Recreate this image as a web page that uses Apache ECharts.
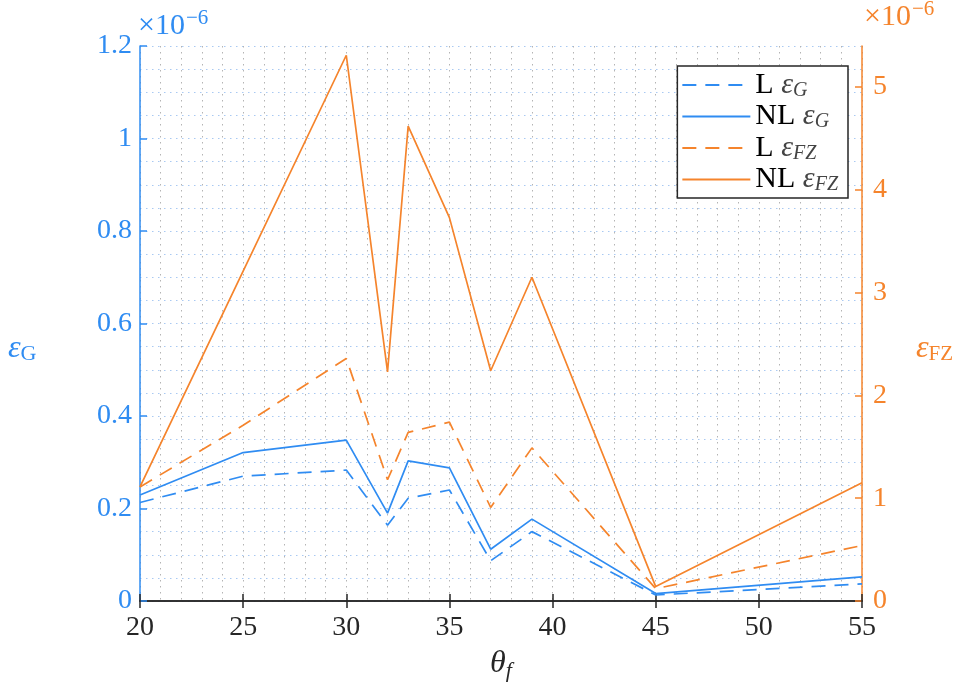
<!DOCTYPE html>
<html>
<head>
<meta charset="utf-8">
<script src="https://cdn.jsdelivr.net/npm/echarts@6/dist/echarts.min.js"></script>
<style>html,body{margin:0;padding:0;background:#fff}#c{width:961px;height:684px}</style>
</head>
<body>
<div id="c"></div>
<script>
// ---- data (values in units of 1e-6) ----
const thetaF = [20, 25, 30, 32, 33, 35, 37, 39, 45, 55];
const L_epsG   = [0.213, 0.270, 0.283, 0.164, 0.222, 0.240, 0.087, 0.150, 0.013, 0.037];
const NL_epsG  = [0.229, 0.321, 0.348, 0.190, 0.303, 0.288, 0.112, 0.177, 0.016, 0.052];
const L_epsFZ  = [1.11, 1.71, 2.36, 1.18, 1.64, 1.74, 0.91, 1.49, 0.12, 0.54];
const NL_epsFZ = [1.11, 3.21, 5.31, 2.23, 4.62, 3.73, 2.24, 3.15, 0.14, 1.15];
const xTicks = [20, 25, 30, 35, 40, 45, 50, 55];
const leftTicks = [0, 0.2, 0.4, 0.6, 0.8, 1.0, 1.2];
const rightTicks = [0, 1, 2, 3, 4, 5];

const BLUE = '#2f8cf2';
const ORANGE = '#f5842c';
const DARK = '#262626';
const FONT = 'Liberation Serif';
const FS = 28;

const pairs = ys => thetaF.map((x, i) => [x, ys[i]]);

const chart = echarts.init(document.getElementById('c'), null, {renderer: 'canvas'});

const legendRich = {
  n: {fontFamily: FONT, fontSize: 30, color: '#000'},
  e: {fontFamily: FONT, fontSize: 30, fontStyle: 'italic', color: '#444'},
  s: {fontFamily: FONT, fontSize: 20, fontStyle: 'italic', color: '#444', padding: [11, 0, 0, 0]}
};
const legendLabels = {
  'L εG': '{n|L }{e|ε}{s|G}',
  'NL εG': '{n|NL }{e|ε}{s|G}',
  'L εFZ': '{n|L }{e|ε}{s|FZ}',
  'NL εFZ': '{n|NL }{e|ε}{s|FZ}'
};

const multRich = c => ({
  a: {fontFamily: FONT, fontSize: 30, fill: c},
  b: {fontFamily: FONT, fontSize: 21, fill: c, padding: [0, 0, 15, 1]}
});

chart.setOption({
  animation: false,
  backgroundColor: '#fff',
  grid: {left: 140, right: 99, top: 46, bottom: 83, show: false, outerBoundsMode: 'none', containLabel: false},
  legend: {
    orient: 'vertical',
    right: 113, top: 66,
    padding: [4, 10, 3, 4],
    itemGap: 1,
    itemWidth: 68, itemHeight: 14,
    borderColor: DARK, borderWidth: 1.5,
    backgroundColor: '#fff',
    itemStyle: {opacity: 0},
    data: ['L εG', 'NL εG', 'L εFZ', 'NL εFZ'],
    formatter: n => legendLabels[n],
    textStyle: {rich: legendRich, fontFamily: FONT, fontSize: 30}
  },
  graphic: [
    {type: 'text', left: 138, top: 8, style: {text: '{a|×10}{b|−6}', fill: BLUE, rich: multRich(BLUE)}},
    {type: 'text', left: 864, top: -1, style: {text: '{a|×10}{b|−6}', fill: ORANGE, rich: multRich(ORANGE)}},
    {type: 'text', left: 8, top: 333, style: {
      text: '{e|ε}{g|G}', fill: BLUE,
      rich: {e: {fontFamily: FONT, fontSize: 32, fontStyle: 'italic', fill: BLUE},
             g: {fontFamily: FONT, fontSize: 22, fill: BLUE, padding: [10, 0, 0, 0]}}
    }},
    {type: 'text', left: 916, top: 333, style: {
      text: '{e|ε}{g|FZ}', fill: ORANGE,
      rich: {e: {fontFamily: FONT, fontSize: 32, fontStyle: 'italic', fill: ORANGE},
             g: {fontFamily: FONT, fontSize: 21, fill: ORANGE, padding: [10, 0, 0, 0]}}
    }}
  ],
  xAxis: [
    {
      type: 'value', min: 20, max: 55, interval: 5, position: 'bottom',
      name: '{t|θ}{f|f}', nameLocation: 'middle', nameGap: 45,
      nameTextStyle: {rich: {
        t: {fontFamily: FONT, fontSize: 32, fontStyle: 'italic', color: DARK},
        f: {fontFamily: FONT, fontSize: 22, fontStyle: 'italic', color: DARK, padding: [14, 0, 0, 0]}
      }},
      axisLine: {show: true, lineStyle: {color: DARK, width: 1.5}},
      axisTick: {show: true, inside: true, length: 7, lineStyle: {color: DARK, width: 1.5}},
      axisLabel: {color: DARK, fontFamily: FONT, fontSize: FS, margin: 13,
        formatter: v => xTicks.includes(v) ? String(v) : ''},
      splitLine: {show: true, lineStyle: {color: '#b4b4b4', type: [1.5, 4.5], width: 1}},
      minorTick: {show: false, splitNumber: 5},
      minorSplitLine: {show: true, lineStyle: {color: '#b4b4b4', type: [1.5, 4.5], width: 1}}
    },
    {
      type: 'value', min: 20, max: 55, interval: 5, position: 'top',
      axisLine: {show: true, lineStyle: {color: DARK, width: 1.5}},
      axisTick: {show: true, inside: true, length: 7, lineStyle: {color: DARK, width: 1.5}},
      axisLabel: {show: false},
      splitLine: {show: false}
    }
  ],
  yAxis: [
    {
      type: 'value', min: 0, max: 1.2, interval: 0.2, position: 'left',
      axisLine: {show: true, lineStyle: {color: BLUE, width: 1.5}},
      axisTick: {show: true, inside: true, length: 7, lineStyle: {color: BLUE, width: 1.5}},
      axisLabel: {color: BLUE, fontFamily: FONT, fontSize: FS, margin: 8,
        formatter: v => { const t = leftTicks.find(k => Math.abs(k - v) < 1e-9); return t === undefined ? '' : String(+t.toFixed(1)); }},
      splitLine: {show: true, lineStyle: {color: '#a9c9f2', type: [1.5, 4.5], width: 1}},
      minorTick: {show: false, splitNumber: 4},
      minorSplitLine: {show: true, lineStyle: {color: '#a9c9f2', type: [1.5, 4.5], width: 1}}
    },
    {
      type: 'value', min: 0, max: 5.4, interval: 1, position: 'right',
      axisLine: {show: true, lineStyle: {color: ORANGE, width: 1.5}},
      axisTick: {show: true, inside: true, length: 7, lineStyle: {color: ORANGE, width: 1.5}},
      axisLabel: {color: ORANGE, fontFamily: FONT, fontSize: FS, margin: 11, showMaxLabel: false,
        formatter: v => rightTicks.includes(v) ? String(v) : ''},
      splitLine: {show: false}
    }
  ],
  series: [
    {name: 'L εG', type: 'line', xAxisIndex: 0, yAxisIndex: 0, data: pairs(L_epsG), symbol: 'none',
      color: BLUE, lineStyle: {color: BLUE, width: 1.7, type: [14, 9]}},
    {name: 'NL εG', type: 'line', xAxisIndex: 0, yAxisIndex: 0, data: pairs(NL_epsG), symbol: 'none',
      color: BLUE, lineStyle: {color: BLUE, width: 1.7, type: 'solid'}},
    {name: 'L εFZ', type: 'line', xAxisIndex: 0, yAxisIndex: 1, data: pairs(L_epsFZ), symbol: 'none',
      color: ORANGE, lineStyle: {color: ORANGE, width: 1.7, type: [14, 9]}},
    {name: 'NL εFZ', type: 'line', xAxisIndex: 0, yAxisIndex: 1, data: pairs(NL_epsFZ), symbol: 'none',
      color: ORANGE, lineStyle: {color: ORANGE, width: 1.7, type: 'solid'}}
  ]
});
</script>
</body>
</html>
